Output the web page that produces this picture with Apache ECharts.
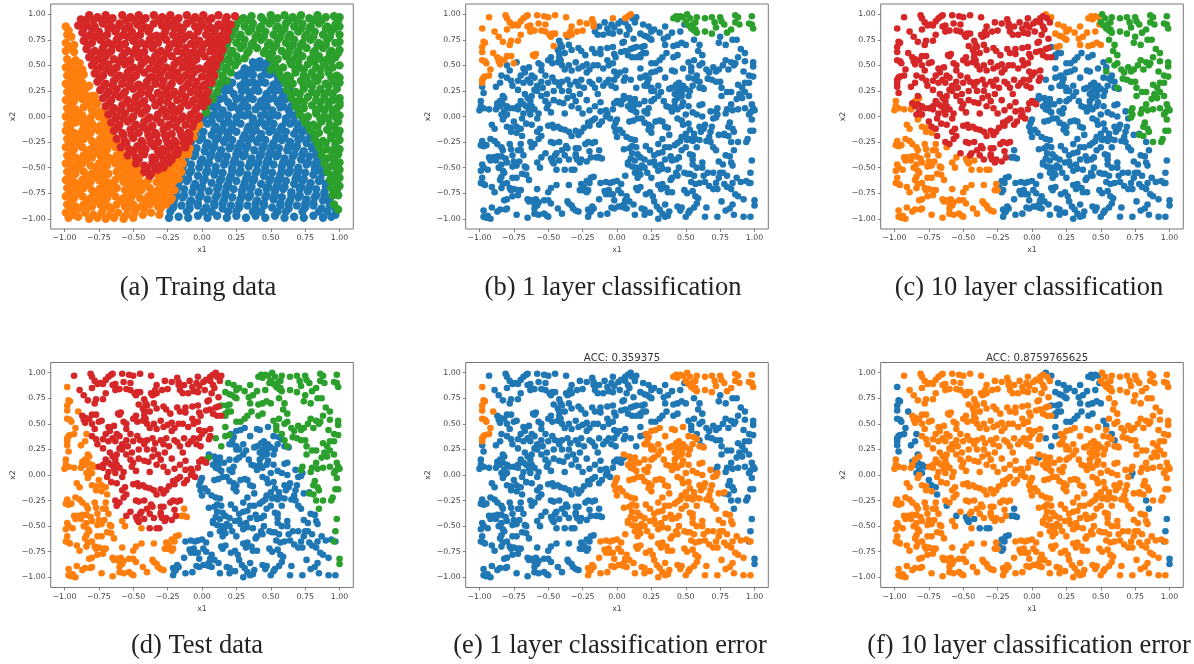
<!DOCTYPE html>
<html><head><meta charset="utf-8">
<style>html,body{margin:0;padding:0;background:#fff}#c{width:1194px;height:664px}</style>
<script src="https://cdn.jsdelivr.net/npm/echarts@6/dist/echarts.min.js"></script></head>
<body><div id="c"></div><script>
// Values are x,y pairs in hundredths.
const trainRed=[-88,95,-82,99,-76,97,-70,99,-65,96,-58,99,-52,97,-46,99,-41,96,-35,99,-29,97,-23,99,-17,96,-11,99,-5,97,1,99,7,96,12,99,18,97,24,98,
-90,89,-84,90,-78,88,-72,91,-66,88,-60,91,-53,88,-47,90,-41,87,-35,91,-29,89,-23,90,-17,88,-11,91,-5,88,0,90,6,87,12,90,17,88,21,90,
-87,82,-81,80,-75,83,-69,80,-63,83,-57,80,-51,83,-45,80,-39,83,-33,79,-27,82,-21,80,-15,83,-9,80,-3,83,3,80,9,83,15,80,19,83,
-86,74,-80,72,-74,75,-68,72,-62,75,-56,71,-50,74,-44,72,-38,75,-32,72,-26,75,-20,72,-14,75,-8,71,-2,74,4,72,10,75,15,72,18,75,
-84,66,-78,64,-72,67,-66,64,-60,67,-54,64,-48,66,-42,63,-36,67,-30,64,-24,67,-18,64,-12,67,-6,63,0,66,6,64,11,67,15,65,
-82,58,-76,56,-70,59,-64,56,-58,59,-52,55,-46,58,-40,56,-34,59,-28,56,-22,59,-16,55,-10,58,-4,56,2,59,8,56,13,58,
-80,50,-74,48,-68,51,-62,48,-56,51,-50,48,-44,51,-38,47,-32,50,-26,48,-20,51,-14,48,-8,50,-2,47,4,50,10,49,
-78,42,-72,40,-66,43,-60,40,-54,43,-48,40,-42,43,-36,39,-30,42,-24,40,-18,43,-12,40,-6,43,0,39,6,42,9,40,
-76,34,-70,32,-64,35,-58,32,-52,35,-46,31,-40,34,-34,32,-28,35,-22,32,-16,35,-10,32,-4,34,2,31,7,33,
-74,26,-68,24,-62,27,-56,24,-50,27,-44,24,-38,27,-32,23,-26,26,-20,24,-14,27,-8,24,-2,26,4,24,
-72,18,-66,16,-60,19,-54,16,-48,19,-42,15,-36,18,-30,16,-24,19,-18,16,-12,19,-6,16,0,18,4,15,
-70,10,-64,8,-58,11,-52,8,-46,11,-40,8,-34,11,-28,7,-22,10,-16,8,-10,11,-4,8,1,10,
-68,2,-62,0,-56,3,-50,0,-44,3,-38,-1,-32,2,-26,0,-20,3,-14,0,-8,2,-2,0,
-66,-6,-60,-8,-54,-5,-48,-8,-42,-5,-36,-9,-30,-6,-24,-8,-18,-5,-12,-8,-6,-6,
-64,-14,-58,-16,-52,-13,-46,-16,-40,-13,-34,-16,-28,-13,-22,-17,-16,-14,-10,-16,
-62,-22,-56,-24,-50,-21,-44,-24,-38,-21,-32,-25,-26,-22,-20,-24,-14,-21,-9,-24,
-59,-30,-53,-32,-47,-29,-41,-32,-35,-29,-29,-32,-23,-29,-17,-33,-12,-30,
-54,-38,-48,-40,-42,-37,-36,-40,-30,-37,-24,-40,-18,-37,
-48,-46,-42,-48,-36,-45,-30,-48,-24,-45,-42,-54,-37,-56,-32,-52,-38,-58];
const trainOrange=[-99,88,-98,80,-95,78,-99,72,-93,70,-99,64,-93,63,-98,56,-92,55,-99,48,-93,47,-87,46,-98,40,-92,39,-86,41,-99,32,-93,31,-87,33,-82,30,
-98,24,-92,23,-86,25,-80,20,-99,16,-93,15,-87,17,-81,14,-76,13,-98,8,-92,7,-86,9,-80,6,-74,5,-99,0,-93,-1,-87,1,-81,-1,-75,0,-70,-2,
-98,-8,-92,-6,-86,-9,-80,-7,-74,-9,-69,-7,-99,-14,-93,-16,-87,-14,-81,-16,-75,-14,-69,-16,-65,-13,-5,-13,-2,-8,
-98,-22,-92,-24,-86,-22,-80,-24,-74,-22,-68,-24,-63,-22,-10,-22,-6,-20,-99,-30,-93,-32,-87,-30,-81,-32,-75,-30,-69,-32,-63,-30,-59,-33,-15,-30,-9,-31,
-98,-38,-92,-40,-86,-38,-80,-40,-74,-38,-68,-40,-62,-38,-56,-40,-21,-38,-15,-40,-10,-37,-99,-46,-93,-48,-87,-46,-81,-48,-75,-46,-69,-48,-63,-46,-57,-48,-51,-46,-26,-46,-20,-48,-14,-46,
-98,-54,-92,-56,-86,-54,-80,-56,-74,-54,-68,-56,-62,-54,-56,-56,-50,-54,-44,-56,-33,-56,-27,-54,-21,-56,-15,-54,
-99,-62,-93,-64,-87,-62,-81,-64,-75,-62,-69,-64,-63,-62,-57,-64,-51,-62,-45,-64,-39,-62,-33,-64,-27,-62,-21,-64,-17,-61,
-98,-70,-92,-72,-86,-70,-80,-72,-74,-70,-68,-72,-62,-70,-56,-72,-50,-70,-44,-72,-38,-70,-32,-72,-26,-70,-20,-72,
-99,-78,-93,-80,-87,-78,-81,-80,-75,-78,-69,-80,-63,-78,-57,-80,-51,-78,-45,-80,-39,-78,-33,-80,-27,-78,-22,-80,
-98,-86,-92,-88,-86,-86,-80,-88,-74,-86,-68,-88,-62,-86,-56,-88,-50,-86,-44,-88,-38,-86,-32,-88,-26,-86,
-99,-94,-93,-96,-85,-94,-79,-96,-73,-94,-67,-96,-61,-94,-55,-96,-49,-94,-43,-96,-37,-94,-31,-96,-97,-99,-90,-98,-82,-100,-76,-99,-70,-100,-64,-99,-57,-100,-50,-99];
const trainBlue=[37,53,42,54,47,52,31,47,36,46,41,48,46,46,52,47,26,40,31,39,37,41,43,39,49,41,55,39,
16,31,22,33,28,30,34,33,40,31,46,33,52,31,58,33,11,23,17,25,23,22,29,25,35,23,41,25,47,22,53,25,59,23,64,25,
7,15,13,17,19,14,25,17,31,14,37,17,43,15,49,17,55,14,61,17,67,14,3,7,9,9,15,6,21,9,27,6,33,9,39,7,45,9,51,6,57,9,63,6,69,9,
1,-1,7,1,13,-2,19,1,25,-1,31,1,37,-2,43,1,49,-1,55,1,61,-2,67,1,73,-1,-2,-9,4,-7,10,-10,16,-7,22,-9,28,-7,34,-10,40,-7,46,-9,52,-7,58,-10,64,-7,70,-9,76,-7,
-5,-17,1,-15,7,-18,13,-15,19,-17,25,-15,31,-18,37,-15,43,-17,49,-15,55,-18,61,-15,67,-17,73,-15,79,-17,
-8,-25,-2,-23,4,-26,10,-23,16,-25,22,-23,28,-26,34,-23,40,-25,46,-23,52,-26,58,-23,64,-25,70,-23,76,-26,82,-23,
-10,-33,-4,-31,2,-34,8,-31,14,-33,20,-31,26,-34,32,-31,38,-33,44,-31,50,-34,56,-31,62,-33,68,-31,74,-34,80,-31,85,-33,
-12,-41,-6,-39,0,-42,6,-39,12,-41,18,-39,24,-42,30,-39,36,-41,42,-39,48,-42,54,-39,60,-41,66,-39,72,-42,78,-39,84,-41,
-14,-49,-8,-47,-2,-50,4,-47,10,-49,16,-47,22,-50,28,-47,34,-49,40,-47,46,-50,52,-47,58,-49,64,-47,70,-50,76,-47,82,-49,87,-47,
-15,-57,-9,-55,-3,-58,3,-55,9,-57,15,-55,21,-58,27,-55,33,-57,39,-55,45,-58,51,-55,57,-57,63,-55,69,-58,75,-55,81,-57,88,-55,
-17,-65,-11,-63,-5,-66,1,-63,7,-65,13,-63,19,-66,25,-63,31,-65,37,-63,43,-66,49,-63,55,-65,61,-63,67,-66,73,-63,79,-65,85,-63,90,-66,
-19,-73,-13,-71,-7,-74,-1,-71,5,-73,11,-71,17,-74,23,-71,29,-73,35,-71,41,-74,47,-71,53,-73,59,-71,65,-74,71,-71,77,-73,83,-71,89,-74,
-20,-81,-14,-79,-8,-82,-2,-79,4,-81,10,-79,16,-82,22,-79,28,-81,34,-79,40,-82,46,-79,52,-81,58,-79,64,-82,70,-79,76,-81,82,-79,88,-82,93,-80,
-21,-89,-15,-87,-9,-90,-3,-87,3,-89,9,-87,15,-90,21,-87,27,-89,33,-87,39,-90,45,-87,51,-89,57,-87,63,-90,69,-87,75,-89,81,-87,87,-90,93,-87,97,-90,
-24,-99,-17,-98,-10,-99,-3,-97,4,-99,11,-97,18,-99,25,-97,32,-99,39,-97,46,-99,53,-97,60,-99,67,-98,74,-99,81,-97,88,-99,94,-98,97,-96];
const trainGreen=[30,96,36,98,43,97,50,99,55,96,60,99,66,97,72,99,78,96,84,99,90,97,96,98,100,97,25,90,31,88,37,91,43,88,49,91,55,88,61,91,67,88,73,91,79,88,85,91,91,88,97,90,100,88,
22,82,28,80,34,83,40,80,46,83,52,80,58,83,64,80,70,83,76,80,82,83,88,80,94,83,100,80,19,74,25,72,31,75,37,72,43,75,49,72,55,75,61,72,67,75,73,72,79,75,85,72,91,75,97,72,100,73,
16,66,22,64,28,67,34,64,40,67,46,64,52,67,58,64,64,67,70,64,76,67,82,64,88,67,94,64,100,65,13,58,19,56,25,59,31,57,49,58,55,56,61,59,67,56,73,59,79,56,85,59,91,56,97,58,
12,50,18,48,24,50,53,50,59,48,65,51,71,48,77,51,83,48,89,51,95,48,100,50,9,42,15,40,21,43,56,42,62,40,68,43,74,40,80,43,86,40,92,43,98,40,
7,34,13,32,18,35,60,34,66,32,72,35,78,32,84,35,90,32,96,35,100,33,5,26,11,24,62,26,68,24,74,27,80,24,86,27,92,24,98,27,4,18,8,17,65,18,71,16,77,19,83,16,89,19,95,16,100,18,
3,10,68,10,74,8,80,11,86,8,92,11,98,8,100,11,3,4,71,2,77,0,83,3,89,0,95,3,100,1,75,-6,81,-8,87,-5,93,-8,99,-5,79,-14,85,-16,91,-13,97,-16,100,-14,82,-22,88,-24,94,-21,100,-23,85,-30,91,-32,97,-29,100,-32,
87,-38,93,-40,99,-37,89,-46,95,-48,100,-45,91,-54,97,-56,100,-52,93,-62,98,-63,100,-60,94,-70,98,-72,100,-68,95,-77,99,-77,96,-86,99,-91];
// Denser rows of the training clouds: [y, x, x, ...] in hundredths.
const trainRedRows=[[94,-85,-79,-73,-67,-55,-49,-43,-31,-25,-19,-7,-1,5,17],[86,-86,-80,-68,-62,-56,-44,-38,-26,-20,-14,-2,4,10,16],[78,-84,-78,-72,-60,-54,-48,-36,-30,-18,-12,-6,6,12,17],[70,-83,-71,-65,-59,-47,-41,-35,-23,-17,-5,1,7,13],[62,-80,-74,-68,-56,-50,-44,-32,-26,-14,-8,-2,10],[54,-78,-72,-60,-54,-42,-36,-30,-18,-12,-6,6,11],[46,-76,-70,-64,-52,-46,-34,-28,-22,-10,-4,2,8],[38,-74,-62,-56,-50,-38,-32,-20,-14,-8,4],[30,-71,-65,-53,-47,-41,-29,-23,-11,-5,1],[22,-69,-63,-57,-45,-39,-27,-21,-15,-3,3],[14,-67,-55,-49,-43,-31,-25,-13,-7,-1],[6,-65,-59,-47,-41,-29,-23,-17,-5],[-2,-63,-57,-51,-39,-33,-21,-15,-9,-3],[-10,-61,-49,-43,-37,-25,-19,-7],[-18,-57,-51,-39,-33,-27,-15,-9],[-26,-55,-43,-37,-25,-19,-13],[-34,-50,-44,-32,-26,-20],[-42,-46,-34,-28,-22],[-50,-40,-34,-28]];
const trainOrangeRows=[[84,-97],[68,-96],[52,-95,-89],[44,-96,-90],[36,-95,-89],[28,-95,-89,-84],[20,-96,-90,-84,-78],[12,-95,-83,-77],[4,-96,-90,-78,-72],[-4,-95,-89,-83,-71],[-11,-96,-84,-78,-72,-67],[-19,-95,-89,-83,-71,-65],[-27,-96,-90,-78,-72,-66,-61,-12],[-35,-95,-83,-77,-71,-59,-13],[-42,-96,-90,-84,-72,-66,-60,-54,-17],[-50,-95,-89,-77,-71,-59,-53,-47,-24,-17],[-58,-96,-84,-78,-72,-60,-54,-48,-30,-24,-18],[-66,-95,-89,-83,-71,-65,-53,-47,-41,-29,-23],[-74,-96,-90,-78,-72,-66,-54,-48,-36,-30,-24],[-82,-95,-83,-77,-71,-59,-53,-41,-35,-29,-23],[-90,-96,-90,-84,-72,-66,-54,-48,-42,-30]];
const trainBlueRows=[[50,39,45],[42,29,34,46,50],[34,19,31,37,43,55],[26,14,20,32,38,50,56,62],[18,10,16,28,34,46,52,58,64],[10,5,11,23,29,41,47,59,65],[2,4,10,16,28,34,46,52,64,70],[-5,1,7,19,25,37,43,49,61,67,73],[-13,-3,9,15,21,33,39,51,57,69,75],[-21,-6,0,12,18,30,36,42,54,60,72,78],[-29,-9,3,9,21,27,33,45,51,63,69,81],[-37,-11,-5,7,13,25,31,43,49,55,67,73,83],[-45,-13,-1,5,17,23,35,41,47,59,65,77,83],[-53,-14,-8,4,10,22,28,40,46,58,64,70,82,86],[-61,-16,-10,2,14,20,32,38,50,56,68,74,86],[-69,-18,-6,0,12,18,30,36,48,54,60,72,78,90],[-77,-19,-13,-1,11,17,29,35,47,53,65,71,83,89],[-85,-21,-9,-3,9,15,27,39,45,57,63,75,81,93],[-93,-23,-11,1,7,19,25,37,43,55,61,73,85,91]];
const trainGreenRows=[[94,27,33,45,51,63,69,81,87,99],[86,24,36,42,54,60,72,78,90,96],[78,21,27,39,45,57,63,75,81,93],[70,18,30,36,48,54,66,72,84,90],[62,15,21,33,45,51,63,69,81,93,99],[54,14,20,26,52,64,70,82,88,94],[46,11,17,50,56,68,74,86,92],[38,9,15,58,64,76,82,94,100],[30,6,12,62,74,80,92,98],[22,5,65,71,83,89,95],[14,68,74,86,92,100],[6,71,83,89,95],[-2,74,86,92,98],[-10,78,84,96],[-18,82,94,99],[-26,84,90,97],[-34,87,95],[-42,90,96],[-50,92,98],[-58,94,99],[-66,95,98]];

// Test set, grouped by: true class / 1-layer prediction / 10-layer prediction.
const redOrangeRed=[-93,97,-81,99,-80,96,-78,92,-76,89,-80,85,-74,90,-72,89,-70,93,-68,96,-66,98,-65,99,-65,88,-63,89,-58,99,-53,98,-50,97,-45,99,-57,91,-55,84,-60,84,-63,83,-52,90,-52,83,-49,80,-47,81,-45,81,-48,78,-46,69,-37,97,-33,88,-34,83,-37,80,-35,79,-33,80,-27,92,-25,84,-22,91,-18,95,-17,88,-17,91,-29,83,-3,96,6,96,8,98,-89,83,-86,78,-83,73,-77,74,-78,70,-72,74,-70,80,-87,58,-86,54,-85,56,-82,55,-85,51,-80,59,-77,59,-75,52,-61,60,-59,61,-60,59];
const redBlueRed=[-13,88,-9,92,-7,86,-4,90,-2,87,1,91,3,93,6,92,8,88,2,83,-3,81,-6,82,-10,80,-14,80,-16,83,11,96,13,92,9,85,7,80,4,72,-42,74,-41,70,-43,65,-38,62,-36,78,-40,68,-42,62,-42,58,-35,70,-33,65,-28,67,-26,64,-23,60,-18,66,-16,62,-12,66,-12,61,-7,67,-3,68,-2,61,-1,58,3,63,6,64,10,66,12,67,8,60,11,58,14,58,5,73,12,76,
-80,50,-73,53,-68,47,-67,43,-62,40,-64,48,-57,52,-55,50,-55,45,-52,40,-50,55,-48,58,-47,52,-43,53,-41,55,-40,50,-38,46,-35,50,-33,45,-30,53,-28,47,-25,49,-22,51,-22,43,-20,46,-17,50,-14,50,-10,47,-7,55,-6,50,-3,52,-2,44,2,43,6,45,6,38,5,35,
-78,45,-80,38,-77,35,-76,30,-72,35,-70,40,-72,26,-68,33,-65,36,-63,33,-60,38,-58,30,-55,34,-54,28,-50,33,-47,38,-45,34,-42,33,-40,34,-36,36,-34,31,-30,34,-28,30,-26,36,-24,28,-20,34,-18,32,-16,28,-13,36,-14,22,-10,30,-8,33,-6,36,-4,30,-2,36,0,40,-1,28,-27,22,-32,20,-35,25,-40,25,-42,30,-46,25,-51,22,-55,20,-58,25,-60,26,-62,20,-65,18,-67,22,-70,15,
-72,10,-75,8,-72,7,-68,12,-66,10,-63,15,-62,10,-64,6,-60,7,-57,3,-52,15,-51,8,-50,12,-48,4,-46,16,-42,14,-39,13,-38,3,-36,18,-33,10,-30,15,-28,8,-25,3,-22,16,-20,6,-16,10,-12,14,-12,5,-8,6,-7,3,-3,7,-2,13,0,15,2,13,3,12,
-69,-2,-68,3,-63,2,-66,-7,-62,-8,-58,-2,-56,-12,-58,-15,-50,-9,-47,-8,-46,-11,-43,-10,-41,-12,-38,-13,-35,-15,-33,-19,-30,-14,-28,-18,-26,-15,-24,-11,-21,-6,-20,-9,-18,-4,-16,-2,-13,-8,-11,-5,-8,0,-5,-2,
-55,-19,-57,-22,-60,-27,-63,-25,-48,-25,-46,-26,-42,-25,-37,-29,-36,-31,-30,-31,-28,-31,-30,-37,-30,-39,-29,-42,-26,-42,-23,-27,-21,-25,-18,-26,-16,-25,-27,-45,-52,-36,-45,-38,-44,-36,-40,-33,-38,-38,-35,-42,-20,-34,-19,-40,-22,-44];
const redBlueOrange=[-62,-30,-55,-40,-48,-41,-47,-44,-46,-46,-47,-42,-42,-43,-38,-52,-33,-52,-31,-52,14,97];
const redOrangeOrange=[10,100];
const orangeOrangeRed=[-98,86,-97,73,-96,72,-98,68,-98,63,-98,55,-96,54,-95,52,-92,46,-97,38,-98,36,-96,39,-93,40,-90,62,-98,33];
const orangeBlueRed=[-83,20,-87,13,-85,10,-83,12,-80,10,-82,5,-84,2,-80,2,-78,8,-75,-5,-73,-10,-70,-12,-69,-19,-84,40,-88,29,-85,33,-98,29,-97,23];
const orangeBlueOrange=[-99,15,-99,10,-100,6,-97,8,-93,7,-88,7,-87,10,-85,15,-82,18,-82,0,-83,-3,-91,-8,-89,-12,-80,-10,-77,-11,-77,-15,-73,-16,-98,-24,-99,-28,-97,-29,-95,-28,-92,-22,-89,-24,-87,-27,-84,-30,-83,-33,-78,-27,-77,-32,-70,-27,-70,-33,-72,-33,-68,-38,-76,-38,
-93,-40,-90,-40,-87,-39,-84,-39,-81,-41,-80,-45,-84,-47,-88,-43,-92,-43,-98,-47,-97,-50,-99,-53,-94,-52,-86,-50,-83,-53,-82,-55,-75,-44,-73,-48,-76,-49,-71,-44,-67,-49,-66,-50,-69,-56,-66,-57,-64,-62,-58,-45,-56,-50,-44,-52,
-98,-60,-99,-65,-97,-66,-96,-67,-91,-69,-89,-74,-85,-62,-84,-59,-83,-66,-84,-70,-80,-65,-78,-70,-77,-72,-75,-71,-72,-72,-70,-72,-73,-60,-76,-60,-72,-77,-76,-78,-80,-81,-82,-82,
-97,-92,-91,-89,-97,-98,-95,-99,-94,-97,-92,-100,-87,-93,-85,-91,-80,-90,-81,-91,-73,-96,-65,-99,-65,-81,-64,-83,-62,-82,-59,-81,-57,-84,-58,-87,-60,-85,-60,-90,-60,-95,-57,-96,-53,-95,-51,-97,-50,-98,-53,-82,-50,-82,-48,-85,-50,-74,-48,-70,-44,-67,-58,-71,-43,-90,-40,-95,-36,-83,-35,-85,-33,-87,-32,-90,-30,-92,-28,-93,-35,-67,-27,-72,-26,-66,-25,-72];
const orangeBlueBlue=[-24,-69,-22,-74,-21,-72,-22,-63,-20,-65,-19,-60,-17,-59,-13,-33,-13,-40,-11,-41,-15,-40];
const greenGreenGreen=[51,100,53,96,50,92,52,89,55,90,57,92,54,86,57,85,58,82,56,84,58,97,64,96,69,97,71,92,75,97,76,93,78,90,64,83,69,81,72,87,80,82,83,85,86,92,88,97,86,99,89,90,96,91,98,98,98,90,99,86];
const greenGreenOrange=[41,96,43,98,46,98,48,97,44,95];
const greenBlueOrange=[19,90,23,88,27,85,25,83,17,81,20,79,22,78,24,76,25,75,31,82,35,88,37,78,34,76,35,70,41,69,40,82,46,83,49,90,44,70,47,72,50,70,20,69,18,68];
const greenBlueBlue=[17,60,19,62,21,62,14,68,17,58,28,52,25,52,31,55,33,58,36,62,41,58,44,60,17,47,17,38,20,39,10,36,14,28,3,15,5,17,83,-25,85,-33,98,-43,97,-55,96,-65,100,-82,100,-87,52,53,54,48,58,40,60,34];
const greenBlueGreen=[56,75,60,70,59,64,62,60,56,55,54,44,60,50,62,52,65,46,67,43,70,48,72,44,74,46,66,37,69,36,72,34,75,34,76,28,62,28,75,78,74,72,79,70,84,75,87,75,90,66,93,62,88,58,86,52,83,53,79,55,77,50,85,50,93,54,99,53,99,49,99,39,96,40,93,33,96,33,91,28,93,24,89,22,91,18,96,20,98,12,99,8,100,6,97,4,96,2,98,-3,93,8,88,7,84,6,80,7,79,3,82,-6,81,-10,84,-12,85,-15,78,-18,81,-19,88,-25,94,-25,95,-22,97,-14,99,-14,72,5,73,8,83,12,87,17,83,24,80,24,76,20,88,31,92,44,81,46];
const blueBlueGreen=[72,-1,73,2];
const blueBlueBlue=[0,-3,-1,-6,-2,-10,-1,-15,0,-20,2,-13,4,-16,7,-20,10,-22,13,-23,5,-32,9,-31,11,-29,14,-30,11,-36,10,-41,8,-45,8,-47,11,-49,14,-50,16,-53,13,-55,18,-48,17,-57,15,-60,21,-29,24,-33,27,-38,30,-36,33,-35,27,-44,28,-48,32,-47,33,-51,37,-52,30,-53,39,-39,40,-43,43,-42,45,-40,47,-33,
10,13,12,15,13,17,8,10,10,7,12,6,14,4,20,30,22,30,25,28,22,33,23,37,21,40,25,43,28,44,31,46,35,38,40,45,42,44,48,47,52,38,56,37,58,35,40,28,38,27,42,22,44,25,46,26,47,20,44,18,42,15,48,14,47,10,52,10,60,11,62,12,63,27,30,30,30,20,27,17,25,15,23,8,20,5,22,3,18,-2,15,-2,12,-4,9,-5,20,-6,23,-8,25,-10,23,-13,25,-16,28,-5,31,-4,33,-5,35,-10,37,-11,38,-18,33,-22,44,-2,47,-4,48,-8,52,-7,53,-13,50,-17,47,-20,51,-23,53,-22,55,-24,57,-22,56,-17,60,-10,61,-15,63,-12,64,-8,69,-10,68,-15,67,-20,68,-25,70,-30,72,-33,65,-24,60,-23,58,-30,50,-30,53,-37,55,-38,62,-45,55,-42,55,-47,58,-50,62,-50,74,-44,77,-47,79,-38,82,-39,83,-45,84,-48,74,-18,78,-17,
-12,-65,-8,-64,-5,-65,-3,-64,0,-63,3,-66,-9,-73,-8,-76,-6,-72,-5,-76,-3,-76,-13,-81,-2,-82,1,-72,3,-75,-2,-90,1,-88,3,-88,5,-86,6,-82,7,-78,5,-89,7,-90,9,-83,12,-86,-17,-90,-19,-93,-21,-91,-20,-94,-21,-98,-18,-88,-12,-96,-7,-95,-4,-89,14,-70,15,-72,17,-69,6,-58,13,-96,18,-90,20,-91,20,-96,24,-94,21,-76,24,-74,26,-78,27,-83,29,-88,31,-91,33,-95,30,-100,35,-98,37,-97,38,-93,35,-86,32,-71,30,-67,33,-66,36,-70,37,-74,40,-74,39,-62,44,-58,49,-55,51,-56,53,-56,56,-58,54,-64,57,-66,60,-65,64,-64,67,-68,72,-65,74,-60,70,-71,73,-71,
49,-72,51,-75,55,-73,57,-78,59,-80,58,-85,56,-89,53,-92,52,-94,50,-98,46,-92,44,-88,47,-89,64,-98,65,-89,73,-98,76,-83,79,-92,82,-90,84,-86,85,-96,92,-98,97,-98,92,-81,88,-78,86,-76,83,-71,80,-69,78,-66,84,-65,90,-64,94,-63,97,-65,
5,20,9,18,12,10,16,12,20,15,25,25,27,25,32,24,34,15,36,10,40,5,38,9,42,10,44,7,50,2,55,4,58,2,62,0,68,5,70,-2,45,33,48,30,50,27,46,30,43,31,52,20,53,25,47,23,45,21,55,30,60,28,
75,-55,70,-55,77,-55,80,-58,87,-60,66,-55,63,-58,45,-50,43,-55,40,-60,25,-60,22,-55,20,-50,24,-45,35,-42,38,-30,42,-28,44,-26,46,-24,35,-30,30,-27,17,-40,20,-42,15,-37,13,-43];
const panelTitles=["","","","","ACC: 0.359375","ACC: 0.8759765625"];
const captions=["(a) Traing data","(b) 1 layer classification","(c) 10 layer classification","(d) Test data","(e) 1 layer classification error","(f) 10 layer classification error"];
const tickValues=[-1,-0.75,-0.5,-0.25,0,0.25,0.5,0.75,1];
const axisNames=["x1","x2"];
const palette=["#1f77b4","#ff7f0e","#2ca02c","#d62728"];
const [BL,OR,GR,RE]=[0,1,2,3];
// [points, true class, 1-layer prediction, 10-layer prediction]
const testGroups=[[redOrangeRed,RE,OR,RE],[redBlueRed,RE,BL,RE],[redBlueOrange,RE,BL,OR],[redOrangeOrange,RE,OR,OR],
[orangeOrangeRed,OR,OR,RE],[orangeBlueRed,OR,BL,RE],[orangeBlueOrange,OR,BL,OR],[orangeBlueBlue,OR,BL,BL],
[greenGreenGreen,GR,GR,GR],[greenGreenOrange,GR,GR,OR],[greenBlueOrange,GR,BL,OR],[greenBlueBlue,GR,BL,BL],[greenBlueGreen,GR,BL,GR],
[blueBlueGreen,BL,BL,GR],[blueBlueBlue,BL,BL,BL]];

const pairs=a=>{const o=[];for(let i=0;i+1<a.length;i+=2)o.push([a[i]/100,a[i+1]/100]);return o;};
const rows=r=>r.flatMap(q=>q.slice(1).map(x=>[x/100,q[0]/100]));
const byClass=fn=>{const s=[[],[],[],[]];testGroups.forEach(g=>{const c=fn(g);s[c].push(...pairs(g[0]));});return s;};
const panelData=[
 [pairs(trainBlue).concat(rows(trainBlueRows)),pairs(trainOrange).concat(rows(trainOrangeRows)),pairs(trainGreen).concat(rows(trainGreenRows)),pairs(trainRed).concat(rows(trainRedRows))],
 byClass(g=>g[2]),byClass(g=>g[3]),byClass(g=>g[1]),
 byClass(g=>g[2]===g[1]?OR:BL),byClass(g=>g[3]===g[1]?OR:BL)];
const lefts=[50.7,465.7,880.7],tops=[4,362.5],W=302.6,H=225;
const capX=[193,608,1024,192,605,1024],capY=[269.5,627.5];
const FONT='"DejaVu Sans"',tick=7.8;
const grids=[],xA=[],yA=[],series=[],titles=[];
for(let i=0;i<6;i++){
 const L=lefts[i%3],T=tops[i<3?0:1];
 grids.push({left:L,top:T,width:W,height:H,show:true,borderColor:'#777',borderWidth:1,backgroundColor:'#fff'});
 const ax=(name,gap)=>({type:'value',gridIndex:i,min:-1.1,max:1.1,name,nameLocation:'middle',nameGap:gap,
  nameTextStyle:{fontFamily:FONT,fontSize:tick,color:'#444'},
  axisLine:{show:false,onZero:false},splitLine:{show:false},
  axisTick:{show:true,length:3,customValues:tickValues,lineStyle:{color:'#666',width:0.8}},
  axisLabel:{show:true,margin:5,fontFamily:FONT,fontSize:tick,color:'#444',customValues:tickValues,
   formatter:v=>(v<0?'\u2212':'')+Math.abs(v).toFixed(2)}});
 xA.push(ax(axisNames[0],17));
 yA.push(ax(axisNames[1],34));
 panelData[i].forEach((d,k)=>{if(d.length)series.push({type:'scatter',xAxisIndex:i,yAxisIndex:i,data:d,symbolSize:i===0?8.4:6.6,
  itemStyle:{color:palette[k],opacity:1},silent:true,animation:false});});
 if(panelTitles[i])titles.push({text:panelTitles[i],left:L+W/2,top:T-14.5,textAlign:'center',
  textStyle:{fontFamily:FONT,fontSize:10.2,fontWeight:'normal',color:'#333'}});
 titles.push({text:captions[i],left:capX[i],top:capY[i<3?0:1],textAlign:'center',
  textStyle:{fontFamily:'"Liberation Serif"',fontSize:26.5,fontWeight:'normal',color:'#222'}});
}
echarts.init(document.getElementById('c'),null,{renderer:'canvas'}).setOption({animation:false,backgroundColor:'#fff',title:titles,grid:grids,xAxis:xA,yAxis:yA,series});
</script></body></html>
